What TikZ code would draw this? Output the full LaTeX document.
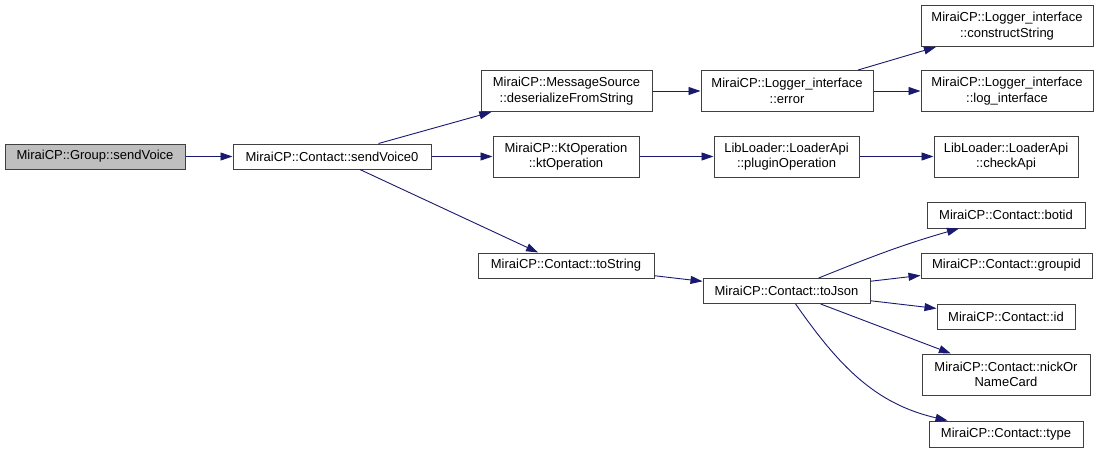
\documentclass[tikz,border=0pt]{standalone}
\usepackage{fontspec}
\setmainfont{Liberation Sans}
\usepackage{xcolor}
\definecolor{edgeblue}{RGB}{25,25,112}
\definecolor{boxgray}{RGB}{64,64,64}
\definecolor{rootfill}{RGB}{191,191,191}
\usepackage{tikz}
\usetikzlibrary{arrows.meta,positioning}

\begin{document}
\begin{tikzpicture}[
  x=1pt,y=1pt,
  node distance=47pt,
  box/.style={rectangle,draw=boxgray,fill=white,line width=1pt,
    minimum height=25pt,inner sep=2pt,align=center,
    font=\fontsize{13}{15.5}\selectfont},
  tallbox/.style={box,minimum height=41pt},
  arrow/.style={-{Triangle[length=12pt,width=8pt]},color=edgeblue,line width=0.9pt}
]
  \fill[white] (0,0) rectangle (1096,-453);
  \useasboundingbox (0,0) rectangle (1096,-453);
  % first column
  \node[box,fill=rootfill,minimum width=180pt] (sv) at (95,-156.5)
    {MiraiCP::Group::sendVoice};
  \node[box,minimum width=198pt,right=of sv] (sv0)
    {MiraiCP::Contact::sendVoice0};
  % second column
  \node[tallbox,minimum width=171pt] (ms) at (566.5,-91)
    {MiraiCP::MessageSource\\::deserializeFromString};
  \node[tallbox,minimum width=146pt,right=61pt of sv0] (kt)
    {MiraiCP::KtOperation\\::ktOperation};
  \node[box,minimum width=176pt] (ts) at (566,-265.5)
    {MiraiCP::Contact::toString};
  % third column
  \node[tallbox,minimum width=172pt] (err) at (787,-91)
    {MiraiCP::Logger\_interface\\::error};
  \node[tallbox,minimum width=145pt,right=74pt of kt] (po)
    {LibLoader::LoaderApi\\::pluginOperation};
  \node[box,minimum width=167pt] (tj) at (786.5,-291)
    {MiraiCP::Contact::toJson};
  % last column
  \node[tallbox,minimum width=172pt] (cs) at (1007,-26)
    {MiraiCP::Logger\_interface\\::constructString};
  \node[tallbox,minimum width=172pt] (lif) at (1007,-91)
    {MiraiCP::Logger\_interface\\::log\_interface};
  \node[tallbox,minimum width=144pt,right=74pt of po] (ca)
    {LibLoader::LoaderApi\\::checkApi};
  \node[box,minimum width=158pt,minimum height=26pt] (bot) at (1006,-215)
    {MiraiCP::Contact::botid};
  \node[box,minimum width=171pt] (gid) at (1006.5,-265.5)
    {MiraiCP::Contact::groupid};
  \node[box,minimum width=138pt] (cid) at (1006,-316.5)
    {MiraiCP::Contact::id};
  \node[tallbox,minimum width=168pt] (nick) at (1006,-374.5)
    {MiraiCP::Contact::nickOr\\NameCard};
  \node[box,minimum width=154pt,minimum height=26pt] (typ) at (1006,-434)
    {MiraiCP::Contact::type};
  % calls
  \draw[arrow] (sv)--(sv0);
  \draw[arrow] (sv0)--(ms);
  \draw[arrow] (sv0)--(kt);
  \draw[arrow] (sv0)--(ts);
  \draw[arrow] (ms)--(err);
  \draw[arrow] (err)--(cs);
  \draw[arrow] (err)--(lif);
  \draw[arrow] (kt)--(po);
  \draw[arrow] (po)--(ca);
  \draw[arrow] (ts)--(tj);
  \draw[arrow] (tj) to[out=22,in=196] (bot);
  \draw[arrow] (tj)--(gid);
  \draw[arrow] (tj)--(cid);
  \draw[arrow] (tj)--(nick);
  \draw[arrow] (tj) to[out=-55,in=167] (typ);
\end{tikzpicture}
\end{document}
